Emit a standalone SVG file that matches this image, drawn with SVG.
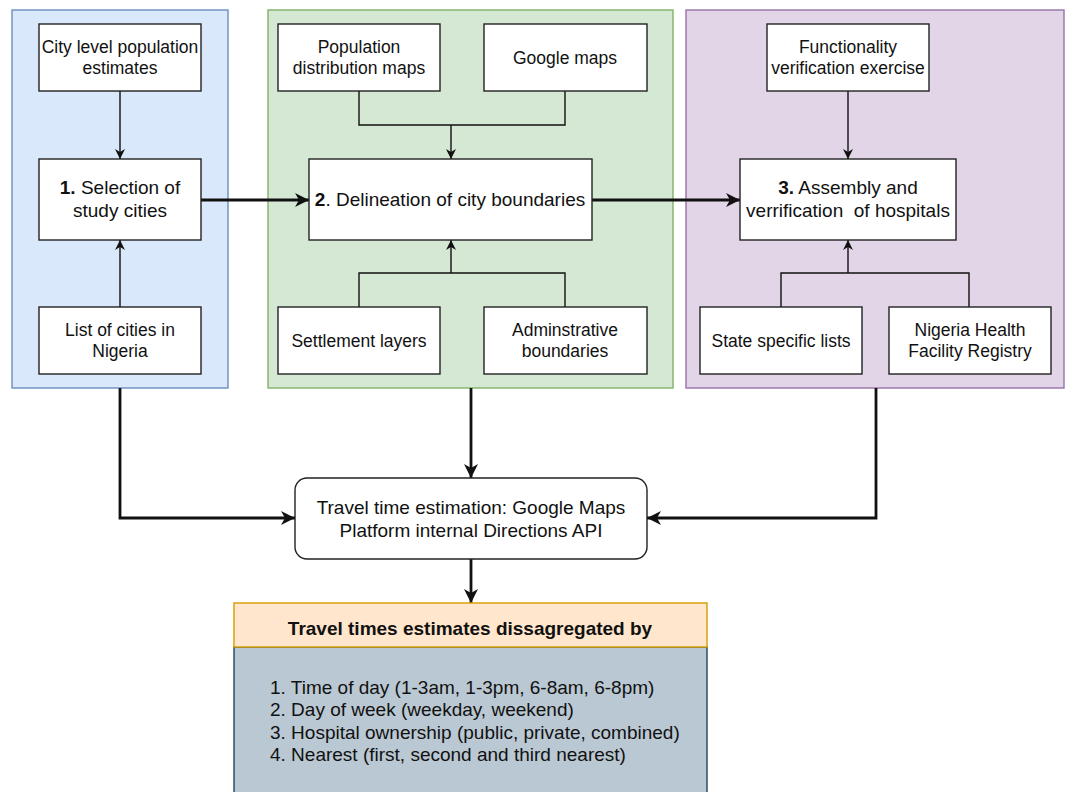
<svg xmlns="http://www.w3.org/2000/svg" width="1065" height="792" viewBox="0 0 1065 792">
<style>
text{font-family:"Liberation Sans",Arial,Helvetica,sans-serif;fill:#111;text-anchor:middle}
.in{font-size:17.5px}
.st{font-size:19px}
.box{fill:#fff;stroke:#222;stroke-width:1.4}
.thin{fill:none;stroke:#111;stroke-width:1.4}
.thick{fill:none;stroke:#111;stroke-width:2.8}
</style>
<defs>
<marker id="ah" viewBox="0 0 12 12" refX="11" refY="6" markerWidth="12" markerHeight="12" orient="auto" markerUnits="userSpaceOnUse"><path d="M1,1 L11,6 L1,11 L4,6 Z" fill="#111"/></marker>
<marker id="ahT" viewBox="0 0 16 16" refX="15" refY="8" markerWidth="16" markerHeight="16" orient="auto" markerUnits="userSpaceOnUse"><path d="M1,1 L15,8 L1,15 L5,8 Z" fill="#111"/></marker>
</defs>
<rect width="1065" height="792" fill="#fff"/>

<g id="container-1"><rect x="12" y="10" width="216" height="378" fill="#dae8fc" stroke="#6c8ebf" stroke-width="1.4"/></g>
<g id="container-2"><rect x="268" y="10" width="405" height="378" fill="#d5e8d4" stroke="#82b366" stroke-width="1.4"/></g>
<g id="container-3"><rect x="686" y="10" width="378" height="378" fill="#e1d5e7" stroke="#9673a6" stroke-width="1.4"/></g>

<g id="connectors">
<path class="thin" d="M120,91 V159" marker-end="url(#ah)"/>
<path class="thin" d="M120,307 V240" marker-end="url(#ah)"/>
<path class="thin" d="M359,91 V125 H565 V91"/>
<path class="thin" d="M451,125 V159" marker-end="url(#ah)"/>
<path class="thin" d="M359,307 V273 H565 V307"/>
<path class="thin" d="M451,273 V240" marker-end="url(#ah)"/>
<path class="thin" d="M848,91 V159" marker-end="url(#ah)"/>
<path class="thin" d="M781,307 V273 H969 V307"/>
<path class="thin" d="M848,273 V240" marker-end="url(#ah)"/>
<path class="thick" d="M201,200 H309" marker-end="url(#ahT)"/>
<path class="thick" d="M592,200 H740" marker-end="url(#ahT)"/>
<path class="thick" d="M120,388 V518 H295" marker-end="url(#ahT)"/>
<path class="thick" d="M471,388 V478" marker-end="url(#ahT)"/>
<path class="thick" d="M876,388 V518 H647" marker-end="url(#ahT)"/>
<path class="thick" d="M471,559 V603" marker-end="url(#ahT)"/>
</g>

<g id="city-pop"><rect class="box" x="39" y="24" width="162" height="67"/><text class="in" x="120" y="53">City level population</text><text class="in" x="120" y="74">estimates</text></g>
<g id="step-1"><rect class="box" x="39" y="159" width="162" height="81"/><text class="st" x="120" y="194"><tspan font-weight="bold">1.</tspan> Selection of</text><text class="st" x="120" y="217">study cities</text></g>
<g id="city-list"><rect class="box" x="39" y="307" width="162" height="67"/><text class="in" x="120" y="336">List of cities in</text><text class="in" x="120" y="357">Nigeria</text></g>

<g id="pop-maps"><rect class="box" x="278" y="24" width="162" height="67"/><text class="in" x="359" y="53">Population</text><text class="in" x="359" y="74">distribution maps</text></g>
<g id="google-maps"><rect class="box" x="484" y="24" width="163" height="67"/><text class="in" x="565" y="64">Google maps</text></g>
<g id="step-2"><rect class="box" x="309" y="159" width="283" height="81"/><text class="st" x="450" y="206"><tspan font-weight="bold">2</tspan>. Delineation of city boundaries</text></g>
<g id="settlement"><rect class="box" x="278" y="307" width="162" height="67"/><text class="in" x="359" y="347">Settlement layers</text></g>
<g id="admin"><rect class="box" x="484" y="307" width="163" height="67"/><text class="in" x="565" y="336">Adminstrative</text><text class="in" x="565" y="357">boundaries</text></g>

<g id="functionality"><rect class="box" x="767" y="24" width="162" height="67"/><text class="in" x="848" y="53">Functionality</text><text class="in" x="848" y="74">verification exercise</text></g>
<g id="step-3"><rect class="box" x="740" y="159" width="216" height="81"/><text class="st" x="848" y="194"><tspan font-weight="bold">3.</tspan> Assembly and</text><text class="st" x="848" y="217" xml:space="preserve" style="white-space:pre">verrification  of hospitals</text></g>
<g id="state-lists"><rect class="box" x="700" y="307" width="162" height="67"/><text class="in" x="781" y="347">State specific lists</text></g>
<g id="nhfr"><rect class="box" x="889" y="307" width="162" height="67"/><text class="in" x="970" y="336">Nigeria Health</text><text class="in" x="970" y="357">Facility Registry</text></g>

<g id="travel-time"><rect class="box" x="295" y="478" width="352" height="81" rx="12" ry="12"/><text class="st" x="471" y="514">Travel time estimation: Google Maps</text><text class="st" x="471" y="537">Platform internal Directions API</text></g>

<g id="estimates">
<rect x="234" y="647" width="473" height="160" fill="#bac8d3" stroke="#23445d" stroke-width="1.4"/>
<rect x="234" y="603" width="473" height="44" fill="#ffe6cc" stroke="#d79b00" stroke-width="1.4"/>
<text class="st" x="470" y="635" font-weight="bold">Travel times estimates dissagregated by</text>
<text class="st" x="270" y="694" text-anchor="start" style="text-anchor:start">1. Time of day (1-3am, 1-3pm, 6-8am, 6-8pm)</text>
<text class="st" x="270" y="716" style="text-anchor:start">2. Day of week (weekday, weekend)</text>
<text class="st" x="270" y="739" style="text-anchor:start">3. Hospital ownership (public, private, combined)</text>
<text class="st" x="270" y="761" style="text-anchor:start">4. Nearest (first, second and third nearest)</text>
</g>
</svg>
